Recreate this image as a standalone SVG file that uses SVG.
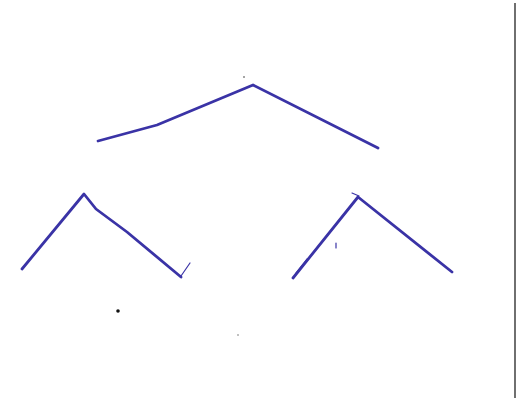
<svg xmlns="http://www.w3.org/2000/svg" width="519" height="403" viewBox="0 0 519 403">
<style>
.ink{fill:none;stroke:#3a33a6;stroke-width:2.8;stroke-linecap:round;stroke-linejoin:round}
.thin{fill:none;stroke:#3a33a6;stroke-width:1.2;stroke-linecap:round}
</style>
<rect width="519" height="403" fill="#ffffff"/>
<line x1="515" y1="3" x2="515" y2="398" stroke="#222" stroke-width="1.3"/>
<g id="top">
<path class="ink" d="M98,141 L157,125 L253,85 L378,148"/>
</g>
<g id="left">
<path class="ink" d="M22,269 L84,194 L96,209 L127,232 L181,277"/>
<path class="thin" d="M181,276 L190,263"/>
</g>
<g id="right">
<path class="ink" d="M293,278 L358,197 L452,272"/>
<path class="thin" d="M352,193 L359,196"/>
<path class="thin" d="M296,273 L307,259"/>
<path class="thin" stroke-width="1.8" d="M336,243 L336,248"/>
</g>
<circle cx="118" cy="311" r="1.8" fill="#111"/>
<circle cx="244" cy="77" r="0.8" fill="#333"/>
<circle cx="238" cy="335" r="0.7" fill="#555"/>
</svg>
